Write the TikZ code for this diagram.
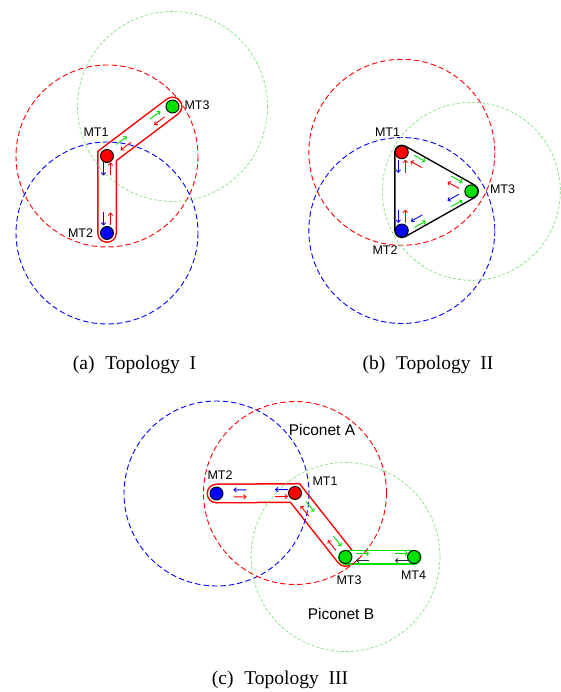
\documentclass[tikz,border=0pt]{standalone}
\usepackage{fontspec}
\setmainfont{Liberation Serif}
\newfontfamily\labelfont{Liberation Sans}
\usetikzlibrary{arrows.meta, calc, backgrounds}

\definecolor{mtred}{RGB}{255,0,0}
\definecolor{mtblue}{RGB}{0,0,255}
\definecolor{mtgreen}{RGB}{0,225,0}
\definecolor{rangegreen}{RGB}{110,225,110}
\definecolor{flowgray}{RGB}{45,45,45}

% two opposite flows on one link: from, to, distance from 'from', side angle, colour towards 'to', colour back
\newcommand{\flowpair}[6]{%
  \draw[flow, #5] ($(#1.center)!#3-6.5pt!(#2.center)!3.5pt!#4:(#2.center)$) -- ($(#1.center)!#3+6.5pt!(#2.center)!3.5pt!#4:(#2.center)$);
  \draw[flow, #6] ($(#1.center)!#3+6.5pt!(#2.center)!3.5pt!#4:(#1.center)$) -- ($(#1.center)!#3-6.5pt!(#2.center)!3.5pt!#4:(#1.center)$);}

\begin{document}
\begin{tikzpicture}[x=1pt, y=-1pt,
  mt/.style={circle, draw=black, line width=0.9pt, minimum size=13pt, inner sep=0},
  lbl/.style={font=\labelfont\fontsize{12.5}{14}\selectfont, inner sep=0},
  captxt/.style={font=\fontsize{19.5}{22}\selectfont, inner sep=0, anchor=base},
  rng/.style={dash pattern=on 5.5pt off 3pt, line width=0.9pt},
  rngthin/.style={draw=rangegreen, dash pattern=on 3pt off 2pt, line width=0.6pt},
  flow/.style={line width=0.9pt, -{To[length=3.2pt, width=5pt]}},
  band/.style={line width=20pt, line cap=round, line join=miter, postaction={draw=white, line width=17pt}},
  thinband/.style={line width=15pt, line cap=round, postaction={draw=white, line width=12.5pt}},
  tri/.style={draw=black, line width=15.5pt, line join=round, postaction={draw=white, line width=12.5pt}, postaction={fill=white}}]
\useasboundingbox (0,0) rectangle (560,692);

% (a) Topology I
\node[mt, fill=mtred] (a1) at (107,156) {};
\node[mt, fill=mtblue] (a2) at (107,233) {};
\node[mt, fill=mtgreen] (a3) at (172.5,106.5) {};
\node[lbl] (a1l) at (96,132) {MT1};
\node[lbl] (a2l) at (80.5,233) {MT2};
\node[lbl] (a3l) at (197,105) {MT3};
\node[captxt] (capa) at (134.5,369) {(a)\hspace{0.55em}Topology\hspace{0.5em}I};

% (b) Topology II
\node[mt, fill=mtred] (b1) at (401.8,152.3) {};
\node[mt, fill=mtblue] (b2) at (401.8,230.5) {};
\node[mt, fill=mtgreen] (b3) at (471.3,191.3) {};
\node[lbl] (b1l) at (387.5,132) {MT1};
\node[lbl] (b2l) at (385,250.5) {MT2};
\node[lbl] (b3l) at (502.5,189) {MT3};
\node[captxt] (capb) at (428,369) {(b)\hspace{0.55em}Topology\hspace{0.5em}II};

% (c) Topology III
\node[mt, fill=mtblue] (c2) at (216.5,493.5) {};
\node[mt, fill=mtred] (c1) at (295,493) {};
\node[mt, fill=mtgreen] (c3) at (345.5,557) {};
\node[mt, fill=mtgreen] (c4) at (414,557) {};
\node[lbl] (c2l) at (220,475) {MT2};
\node[lbl] (c1l) at (325,481) {MT1};
\node[lbl] (c3l) at (349,580) {MT3};
\node[lbl] (c4l) at (413.5,575) {MT4};
\node[lbl, font=\labelfont\fontsize{15.5}{17}\selectfont] (pa) at (322,430) {Piconet A};
\node[lbl, font=\labelfont\fontsize{15.5}{17}\selectfont] (pb) at (341,614) {Piconet B};
\node[captxt] (capc) at (280,684) {(c)\hspace{0.55em}Topology\hspace{0.5em}III};

\begin{scope}[on background layer]
  \draw[band, mtred] (a2.center) -- (a1.center) -- (a3.center);
  \draw[tri] (b1.center) -- (b2.center) -- (b3.center) -- cycle;
  \draw[band, mtred] (c2.center) -- (c1.center) -- (c3.center);
  \draw[thinband, mtgreen] (c3.center) -- (c4.center);
  % coverage ranges
  \draw[rng, mtred] (a1) circle[radius=91];
  \draw[rng, mtblue] (a2) circle[radius=91];
  \draw[rngthin] (a3) circle[radius=95];
  \draw[rng, mtred] (b1) circle[radius=93];
  \draw[rng, mtblue] (b2) circle[radius=93];
  \draw[rngthin] (b3) circle[radius=89];
  \draw[rng, mtblue] (c2) circle[radius=92.5];
  \draw[rng, mtred] (c1) circle[radius=91.5];
  \draw[rngthin] (c3) circle[radius=94.5];
\end{scope}

\flowpair{a1}{a2}{13pt}{-90}{mtblue}{mtred}
\flowpair{a1}{a2}{63pt}{-90}{mtblue}{mtred}
\flowpair{a1}{a3}{21pt}{90}{mtgreen}{mtred}
\flowpair{a1}{a3}{63pt}{90}{mtgreen}{mtred}

\flowpair{b1}{b2}{14pt}{-90}{mtblue}{mtred}
\flowpair{b1}{b2}{64pt}{-90}{mtblue}{mtred}
\flowpair{b1}{b3}{18.5pt}{90}{mtgreen}{mtred}
\flowpair{b1}{b3}{61pt}{90}{mtgreen}{mtred}
\flowpair{b2}{b3}{19pt}{-90}{mtgreen}{mtblue}
\flowpair{b2}{b3}{61pt}{-90}{mtgreen}{mtblue}

\flowpair{c2}{c1}{23.5pt}{-90}{mtred}{mtblue}
\flowpair{c2}{c1}{65pt}{-90}{mtred}{mtblue}
\flowpair{c1}{c3}{20pt}{90}{mtgreen}{mtred}
\flowpair{c1}{c3}{64pt}{90}{mtgreen}{mtred}
\flowpair{c3}{c4}{17pt}{90}{mtgreen}{flowgray}
\flowpair{c3}{c4}{56pt}{90}{mtgreen}{flowgray}
\end{tikzpicture}
\end{document}
